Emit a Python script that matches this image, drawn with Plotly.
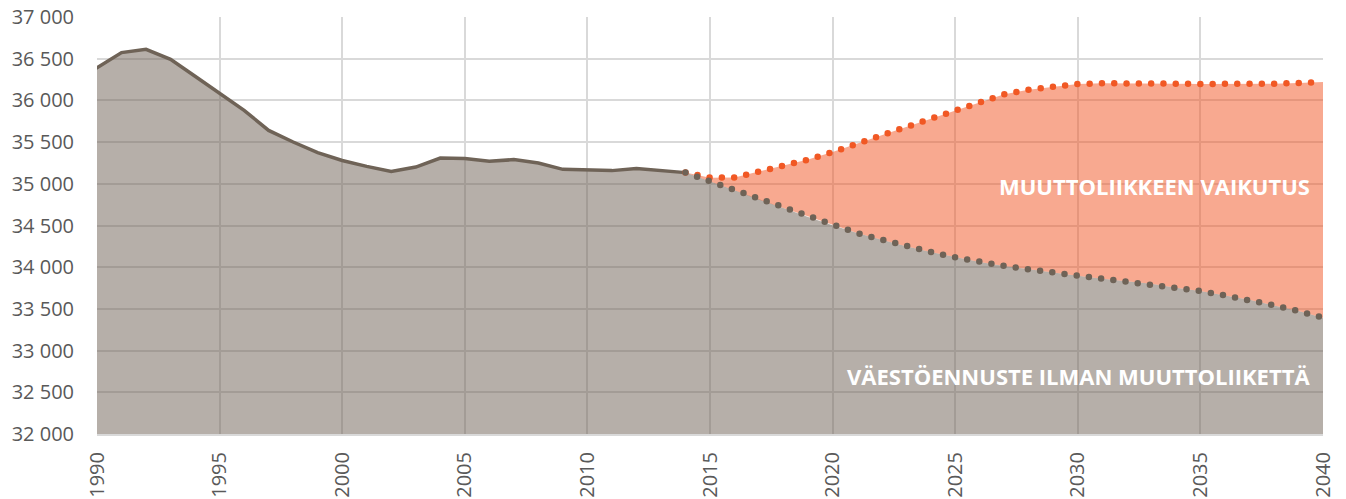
import plotly.graph_objects as go

# Historical population 1990-2014
hist_years = list(range(1990, 2015))
hist_pop = [36390, 36573, 36613, 36493, 36290, 36081, 35881, 35640, 35501, 35374,
            35280, 35209, 35149, 35201, 35309, 35302, 35270, 35290, 35249, 35173,
            35161, 35158, 35182, 35158, 35134]

# Projections 2014-2040
proj_years = list(range(2014, 2041))
proj_no_migration = [35134, 35030, 34922, 34810, 34710, 34601, 34502, 34409, 34330, 34250,
                     34182, 34118, 34062, 34015, 33974, 33938, 33898, 33862, 33834, 33802,
                     33754, 33714, 33662, 33610, 33542, 33474, 33395]
proj_with_migration = [35134, 35074, 35075, 35141, 35218, 35290, 35381, 35473, 35581, 35681,
                       35781, 35881, 35981, 36073, 36129, 36169, 36197, 36205, 36209, 36205,
                       36201, 36197, 36193, 36197, 36201, 36209, 36221]

x_ticks = list(range(1990, 2041, 5))
y_ticks = list(range(32000, 37001, 500))

label_migration = "MUUTTOLIIKKEEN VAIKUTUS"
label_natural = "VÄESTÖENNUSTE ILMAN MUUTTOLIIKETTÄ"

BROWN = "rgb(111,99,87)"
BROWN_FILL = "rgba(109,95,83,0.5)"
ORANGE = "rgb(241,88,36)"
ORANGE_FILL = "rgba(241,83,33,0.5)"

# continuous gray area (history + projection without migration)
gray_x = hist_years + proj_years[1:]
gray_y = hist_pop + proj_no_migration[1:]

fig = go.Figure()
# gray area
fig.add_trace(go.Scatter(x=gray_x, y=gray_y, mode="lines",
                         line=dict(color="rgba(0,0,0,0)", width=0),
                         fill="tozeroy", fillcolor=BROWN_FILL, hoverinfo="skip"))
# historical line
fig.add_trace(go.Scatter(x=hist_years, y=hist_pop, mode="lines",
                         line=dict(color=BROWN, width=3.5), hoverinfo="skip"))
# invisible base for the orange band
fig.add_trace(go.Scatter(x=proj_years, y=proj_no_migration, mode="lines",
                         line=dict(color="rgba(0,0,0,0)", width=0), hoverinfo="skip"))
# projection with migration (orange dotted) + band
fig.add_trace(go.Scatter(x=proj_years, y=proj_with_migration, mode="lines",
                         line=dict(color=ORANGE, width=6.5, dash="0px,12.3px"),
                         fill="tonexty", fillcolor=ORANGE_FILL, hoverinfo="skip"))
# projection without migration (gray dotted), on top
fig.add_trace(go.Scatter(x=proj_years, y=proj_no_migration, mode="lines",
                         line=dict(color=BROWN, width=6.5, dash="0px,12.3px"),
                         hoverinfo="skip"))

fig.add_annotation(text=label_migration, xref="paper", yref="paper",
                   x=0.9908, y=0.5947, xanchor="right", yanchor="middle",
                   showarrow=False,
                   font=dict(family="Open Sans", size=22, color="white", weight="bold"))
fig.add_annotation(text=label_natural, xref="paper", yref="paper",
                   x=0.9908, y=0.1384, xanchor="right", yanchor="middle",
                   showarrow=False,
                   font=dict(family="Open Sans", size=22, color="white", weight="bold"))

fig.update_layout(
    width=1346, height=499,
    margin=dict(l=97, r=23, t=17, b=65),
    paper_bgcolor="white", plot_bgcolor="white",
    showlegend=False,
    separators=", ",
    font=dict(family="Open Sans", size=20, color="#595959"),
)
fig.update_xaxes(range=[1990, 2040], tickvals=x_ticks, tickangle=-90,
                 showgrid=True, gridcolor="#d9d9d9", gridwidth=2,
                 showline=True, linecolor="#d9d9d9", linewidth=2,
                 zeroline=False, ticks="", ticklabelstandoff=8, automargin=False)
fig.update_yaxes(range=[32000, 37000], tickvals=y_ticks, tickformat=",d",
                 showgrid=True, gridcolor="#d9d9d9", gridwidth=2,
                 zeroline=False, ticks="", ticklabelstandoff=22, automargin=False)

post = """
document.body.style.margin = '0';
document.body.style.overflow = 'hidden';
var fix = function(){
  document.querySelectorAll('.scatterlayer .js-line').forEach(function(p){
    p.style.strokeLinecap = 'round';
  });
};
fix();
var gd = document.getElementsByClassName('plotly-graph-div')[0];
if (gd && gd.on) { gd.on('plotly_afterplot', fix); }
"""
fig.write_html("out.html", post_script=post, config={"displayModeBar": False})
